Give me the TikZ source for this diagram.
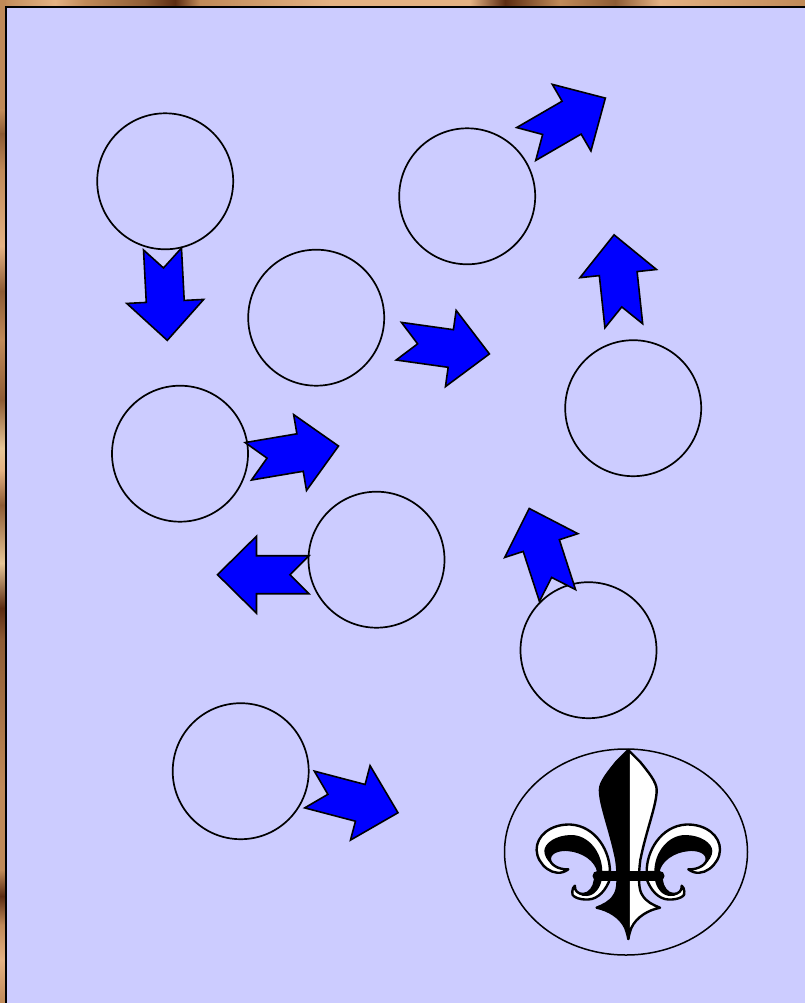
\documentclass[tikz,border=0pt]{standalone}
\usepackage{tikz}
\usetikzlibrary{calc,shapes.geometric}
\definecolor{panel}{HTML}{CCCCFF}
\definecolor{arrowblue}{HTML}{0000FF}
\definecolor{woodtan}{HTML}{C08A58}
\definecolor{woodpale}{HTML}{E4B283}
\definecolor{woodlight}{HTML}{E6C596}
\definecolor{woodmid}{HTML}{8E5C34}
\definecolor{wooddark}{HTML}{5C2C12}
\tikzset{
  ring/.style={circle,draw=black,line width=1.7pt,minimum size=136pt,inner sep=0pt,outer sep=0pt},
  oval/.style={ellipse,draw=black,line width=1.5pt,minimum width=243pt,minimum height=206pt,inner sep=0pt,outer sep=0pt},
  blockarrow/.style={draw=black,fill=arrowblue,line width=1.6pt,line join=miter},
  fleurline/.style={draw=black,line width=2.4pt,line join=round}
}
\newcommand{\blockshape}[4]{%
  \pgfmathsetmacro{\turn}{atan2(-(#4-#2),#3-#1)}
  \begin{scope}[shift={(#1,#2)},rotate=\turn]
    \draw[blockarrow] (0,19) -- (19,0) -- (0,-19) -- (52.5,-19) -- (52.5,-38.5)
      -- (91.5,0) -- (52.5,38.5) -- (52.5,19) -- cycle;
  \end{scope}
}
% One half of the lily: side and petal colour.
\newcommand{\fleurhalf}[2]{%
  \begin{scope}[shift={(628.3,0)},xscale=#1]
    % lower small scroll
    \filldraw[fleurline,fill=white] (18,878) .. controls (22,890) and (30,899) .. (40,899.5)
      .. controls (50,900) and (58,896) .. (56,891.5)
      .. controls (56,889) and (55,887) .. (53.4,885.7)
      .. controls (54,891) and (50,894) .. (45,894)
      .. controls (39,894) and (34,887) .. (33.4,880) -- cycle;
    \fill[black] (26.7,880) .. controls (28,888) and (34,896) .. (42,896)
      .. controls (47,896.5) and (53,894) .. (53.4,885.7)
      .. controls (54,891) and (50,894) .. (45,894)
      .. controls (39,894) and (34,887) .. (33.4,880) -- cycle;
    % large scroll
    \filldraw[fleurline,fill=white] (18.4,872) .. controls (18,852) and (32,826) .. (58,824.5)
      .. controls (78,824) and (92,836) .. (91.7,850)
      .. controls (91.5,864) and (74,880) .. (60,869.3)
      .. controls (70,870) and (79,864) .. (78.4,858.3)
      .. controls (78,851) and (66,849) .. (60,850)
      .. controls (46,851) and (32,860) .. (30,872) -- cycle;
    \fill[black] (26,872) .. controls (26,852) and (40,835) .. (57,835)
      .. controls (72,835) and (84,843) .. (84,851)
      .. controls (84,860) and (72,872) .. (60,869.3)
      .. controls (70,870) and (79,864) .. (78.4,858.3)
      .. controls (78,851) and (66,849) .. (60,850)
      .. controls (46,851) and (32,860) .. (30,872) -- cycle;
    % centre petal
    \filldraw[fleurline,fill=#2] (0,750) -- (11.7,761.7)
      .. controls (20,772) and (28.4,782) .. (28.4,790)
      .. controls (28.4,805) and (18,830) .. (12,860)
      .. controls (10,875) and (10,890) .. (14,895)
      .. controls (18,902) and (25,905) .. (31.7,907.7)
      .. controls (20,910) and (8,917) .. (3,928)
      .. controls (1.5,932) and (0.5,936) .. (0,939) -- cycle;
  \end{scope}
}
\begin{document}
\begin{tikzpicture}[x=1pt,y=-1pt]
  \useasboundingbox (0,0) rectangle (805,1003);

  % Wood strips along the top and the left edge.
  \fill[woodtan] (0,0) rectangle (805,8);
  \fill[woodtan] (0,0) rectangle (7,1003);
  \foreach \xa/\xb/\ca/\cb in {0/55/woodtan/woodpale,55/85/woodpale/woodtan,85/145/woodtan/woodmid,
    145/175/woodmid/wooddark,175/200/wooddark/woodtan,200/330/woodtan/woodpale,330/470/woodpale/woodpale,
    470/505/woodpale/wooddark,505/560/wooddark/woodtan,560/615/woodtan/woodmid,615/660/woodmid/woodpale,
    660/805/woodpale/woodtan}{
    \shade[left color=\ca,right color=\cb] (\xa,0) rectangle (\xb,7);
  }
  \foreach \ya/\yb/\ca/\cb in {0/110/woodtan/woodtan,110/134/woodtan/woodmid,134/170/woodmid/woodtan,
    170/246/woodtan/woodpale,246/291/woodpale/woodmid,291/340/woodmid/woodtan,340/400/woodtan/woodmid,
    400/448/woodmid/woodlight,448/470/woodlight/woodpale,470/505/woodpale/woodmid,505/563/woodmid/woodlight,
    563/608/woodlight/wooddark,608/640/wooddark/woodmid,640/787/woodmid/woodtan,787/870/woodtan/woodtan,
    870/896/woodtan/wooddark,896/925/wooddark/woodtan,925/960/woodtan/woodpale,960/1003/woodpale/woodtan}{
    \shade[top color=\ca,bottom color=\cb] (0,\ya) rectangle (6,\yb);
  }
  \filldraw[panel,draw=black,line width=1.6pt] (6,7) rectangle (812,1010);

  \node[ring] (topleft) at (165.2,181.3) {};
  \node[ring] (topmid) at (467.2,196.3) {};
  \node[ring] (centre) at (316.2,317.7) {};
  \node[ring] (right) at (633.2,408.2) {};
  \node[ring] (midleft) at (180,453.7) {};
  \node[ring] (midlow) at (376.5,559.7) {};
  \node[ring] (lowright) at (588.5,650.2) {};
  \node[ring] (lowleft) at (240.7,771.2) {};
  \node[oval] (crest) at (626,852) {};

  \blockshape{162.5}{249}{167.3}{340.7}
  \blockshape{526.2}{144}{605}{98.3}
  \blockshape{623.8}{325.8}{614}{234.3}
  \blockshape{398.8}{341.2}{490}{354}
  \blockshape{248.3}{461.3}{338.7}{446}
  \blockshape{309}{574.7}{217.7}{574.7}
  \blockshape{557.5}{595.5}{529.3}{508.7}
  \blockshape{309.5}{789.5}{399}{813}

  % Lily inside the oval.
  \fleurhalf{1}{white}
  \fleurhalf{-1}{black}
  \draw[black,line width=10pt,line cap=round] (597.5,875.7) -- (659.5,875.7);
\end{tikzpicture}
\end{document}
